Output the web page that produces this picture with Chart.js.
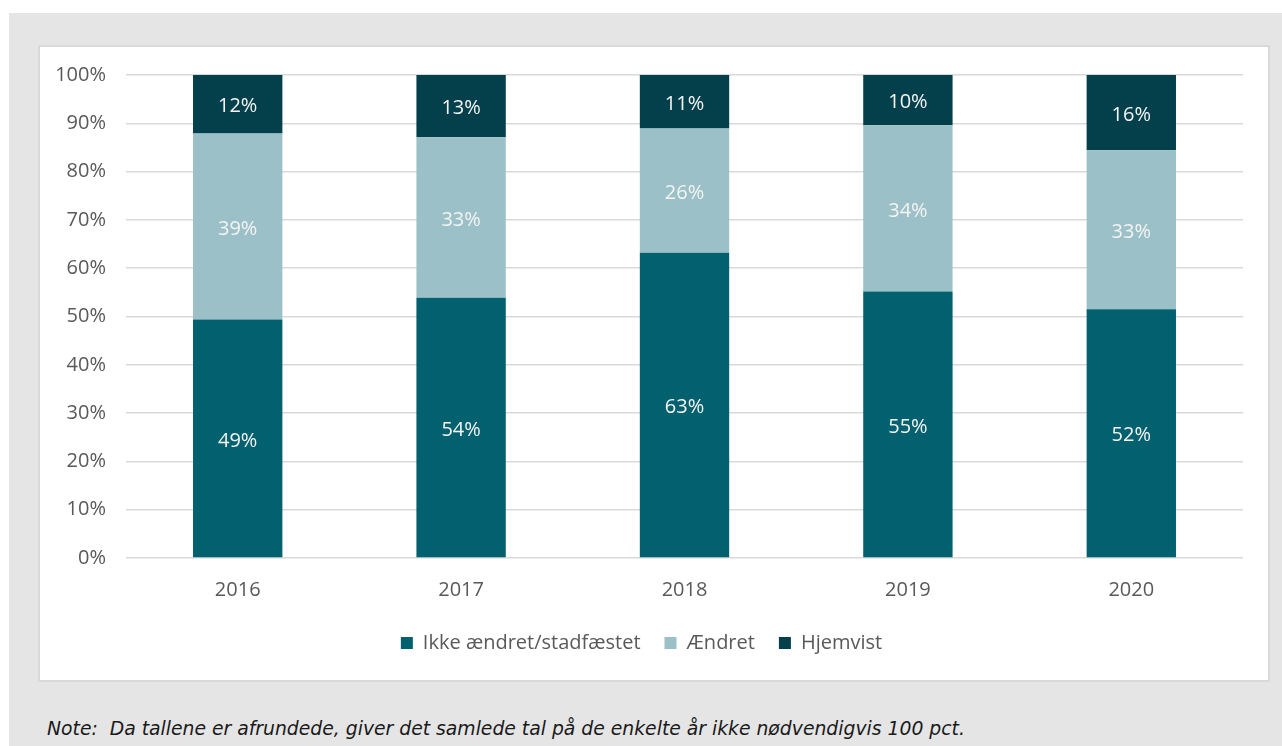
<!DOCTYPE html>
<html>
<head>
<meta charset="utf-8">
<script src="https://cdn.jsdelivr.net/npm/chart.js@4.4.0/dist/chart.umd.min.js"></script>
<style>
  html, body { margin: 0; padding: 0; background: #ffffff; }
  body { width: 1282px; height: 746px; position: relative; overflow: hidden; }
  #bg { position: absolute; left: 9px; top: 13px; width: 1273px; height: 733px; background: #e5e5e5; }
  #panel { position: absolute; left: 38px; top: 45px; width: 1232px; height: 637px; box-sizing: border-box;
           border: 2px solid #d9d9d9; background: #ffffff; }
  #wrap { position: absolute; left: 0; top: 0; width: 1228px; height: 633px; }
  #note { position: absolute; left: 47px; top: 719px; font-family: "DejaVu Sans", sans-serif; font-style: italic;
          font-size: 18.8px; line-height: 20px; color: #1a1a1a; white-space: pre; }
</style>
</head>
<body>
<div id="bg"></div>
<div id="panel"><div id="wrap"><canvas id="c"></canvas></div></div>
<div id="note">Note:  Da tallene er afrundede, giver det samlede tal på de enkelte år ikke nødvendigvis 100 pct.</div>
<script>
const categories = ["2016", "2017", "2018", "2019", "2020"];
const seriesNames = ["Ikke ændret/stadfæstet", "Ændret", "Hjemvist"];
const ikkeAendret = [49.4, 53.9, 63.2, 55.2, 51.5];
const aendret = [38.5, 33.2, 25.7, 34.4, 32.9];
const hjemvist = [12.1, 12.9, 11.1, 10.4, 15.6];
const yTicks = [0, 10, 20, 30, 40, 50, 60, 70, 80, 90, 100];
const colors = ["#03606f", "#9bc0c7", "#03404c"];

const FONT = '"Open Sans", "Noto Sans", sans-serif';

const barLabels = {
  id: 'barLabels',
  afterDatasetsDraw(chart) {
    const ctx = chart.ctx;
    ctx.save();
    ctx.font = '20px ' + FONT;
    ctx.fillStyle = '#f4f4f4';
    ctx.textAlign = 'center';
    ctx.textBaseline = 'middle';
    chart.data.datasets.forEach((ds, i) => {
      const meta = chart.getDatasetMeta(i);
      if (meta.hidden) return;
      meta.data.forEach((el, j) => {
        const p = el.getCenterPoint();
        ctx.fillText(Math.round(ds.data[j]) + '%', p.x, p.y + 2.5);
      });
    });
    ctx.restore();
  }
};

new Chart(document.getElementById('c'), {
  type: 'bar',
  data: {
    labels: categories,
    datasets: [
      { label: seriesNames[0], data: ikkeAendret, backgroundColor: colors[0], borderWidth: 0 },
      { label: seriesNames[1], data: aendret, backgroundColor: colors[1], borderWidth: 0 },
      { label: seriesNames[2], data: hjemvist, backgroundColor: colors[2], borderWidth: 0 }
    ]
  },
  options: {
    responsive: true,
    maintainAspectRatio: false,
    animation: false,
    events: [],
    datasets: { bar: { categoryPercentage: 1.0, barPercentage: 0.4 } },
    layout: { padding: { left: 0, right: 25, top: 28, bottom: 17 } },
    scales: {
      x: {
        stacked: true,
        grid: { display: false, drawTicks: false },
        border: { display: false },
        ticks: { color: '#595959', font: { family: FONT, size: 20 }, padding: 20 },
        afterFit(scale) { scale.height = 51; }
      },
      y: {
        stacked: true,
        min: 0, max: 100,
        afterBuildTicks(scale) { scale.ticks = yTicks.map(v => ({ value: v })); },
        grid: { color: '#d9d9d9', lineWidth: 1.5, drawTicks: false },
        border: { display: false },
        ticks: { color: '#595959', font: { family: FONT, size: 20 }, padding: 20,
                 callback: v => v + '%' },
        afterFit(scale) { scale.width = 86; scale.paddingTop = 0; scale.paddingBottom = 0; }
      }
    },
    plugins: {
      legend: {
        position: 'bottom',
        labels: { color: '#595959', font: { family: FONT, size: 20 }, boxWidth: 12, boxHeight: 12, padding: 24 }
      },
      tooltip: { enabled: false },
      title: { display: false }
    }
  },
  plugins: [barLabels]
});
</script>
</body>
</html>
